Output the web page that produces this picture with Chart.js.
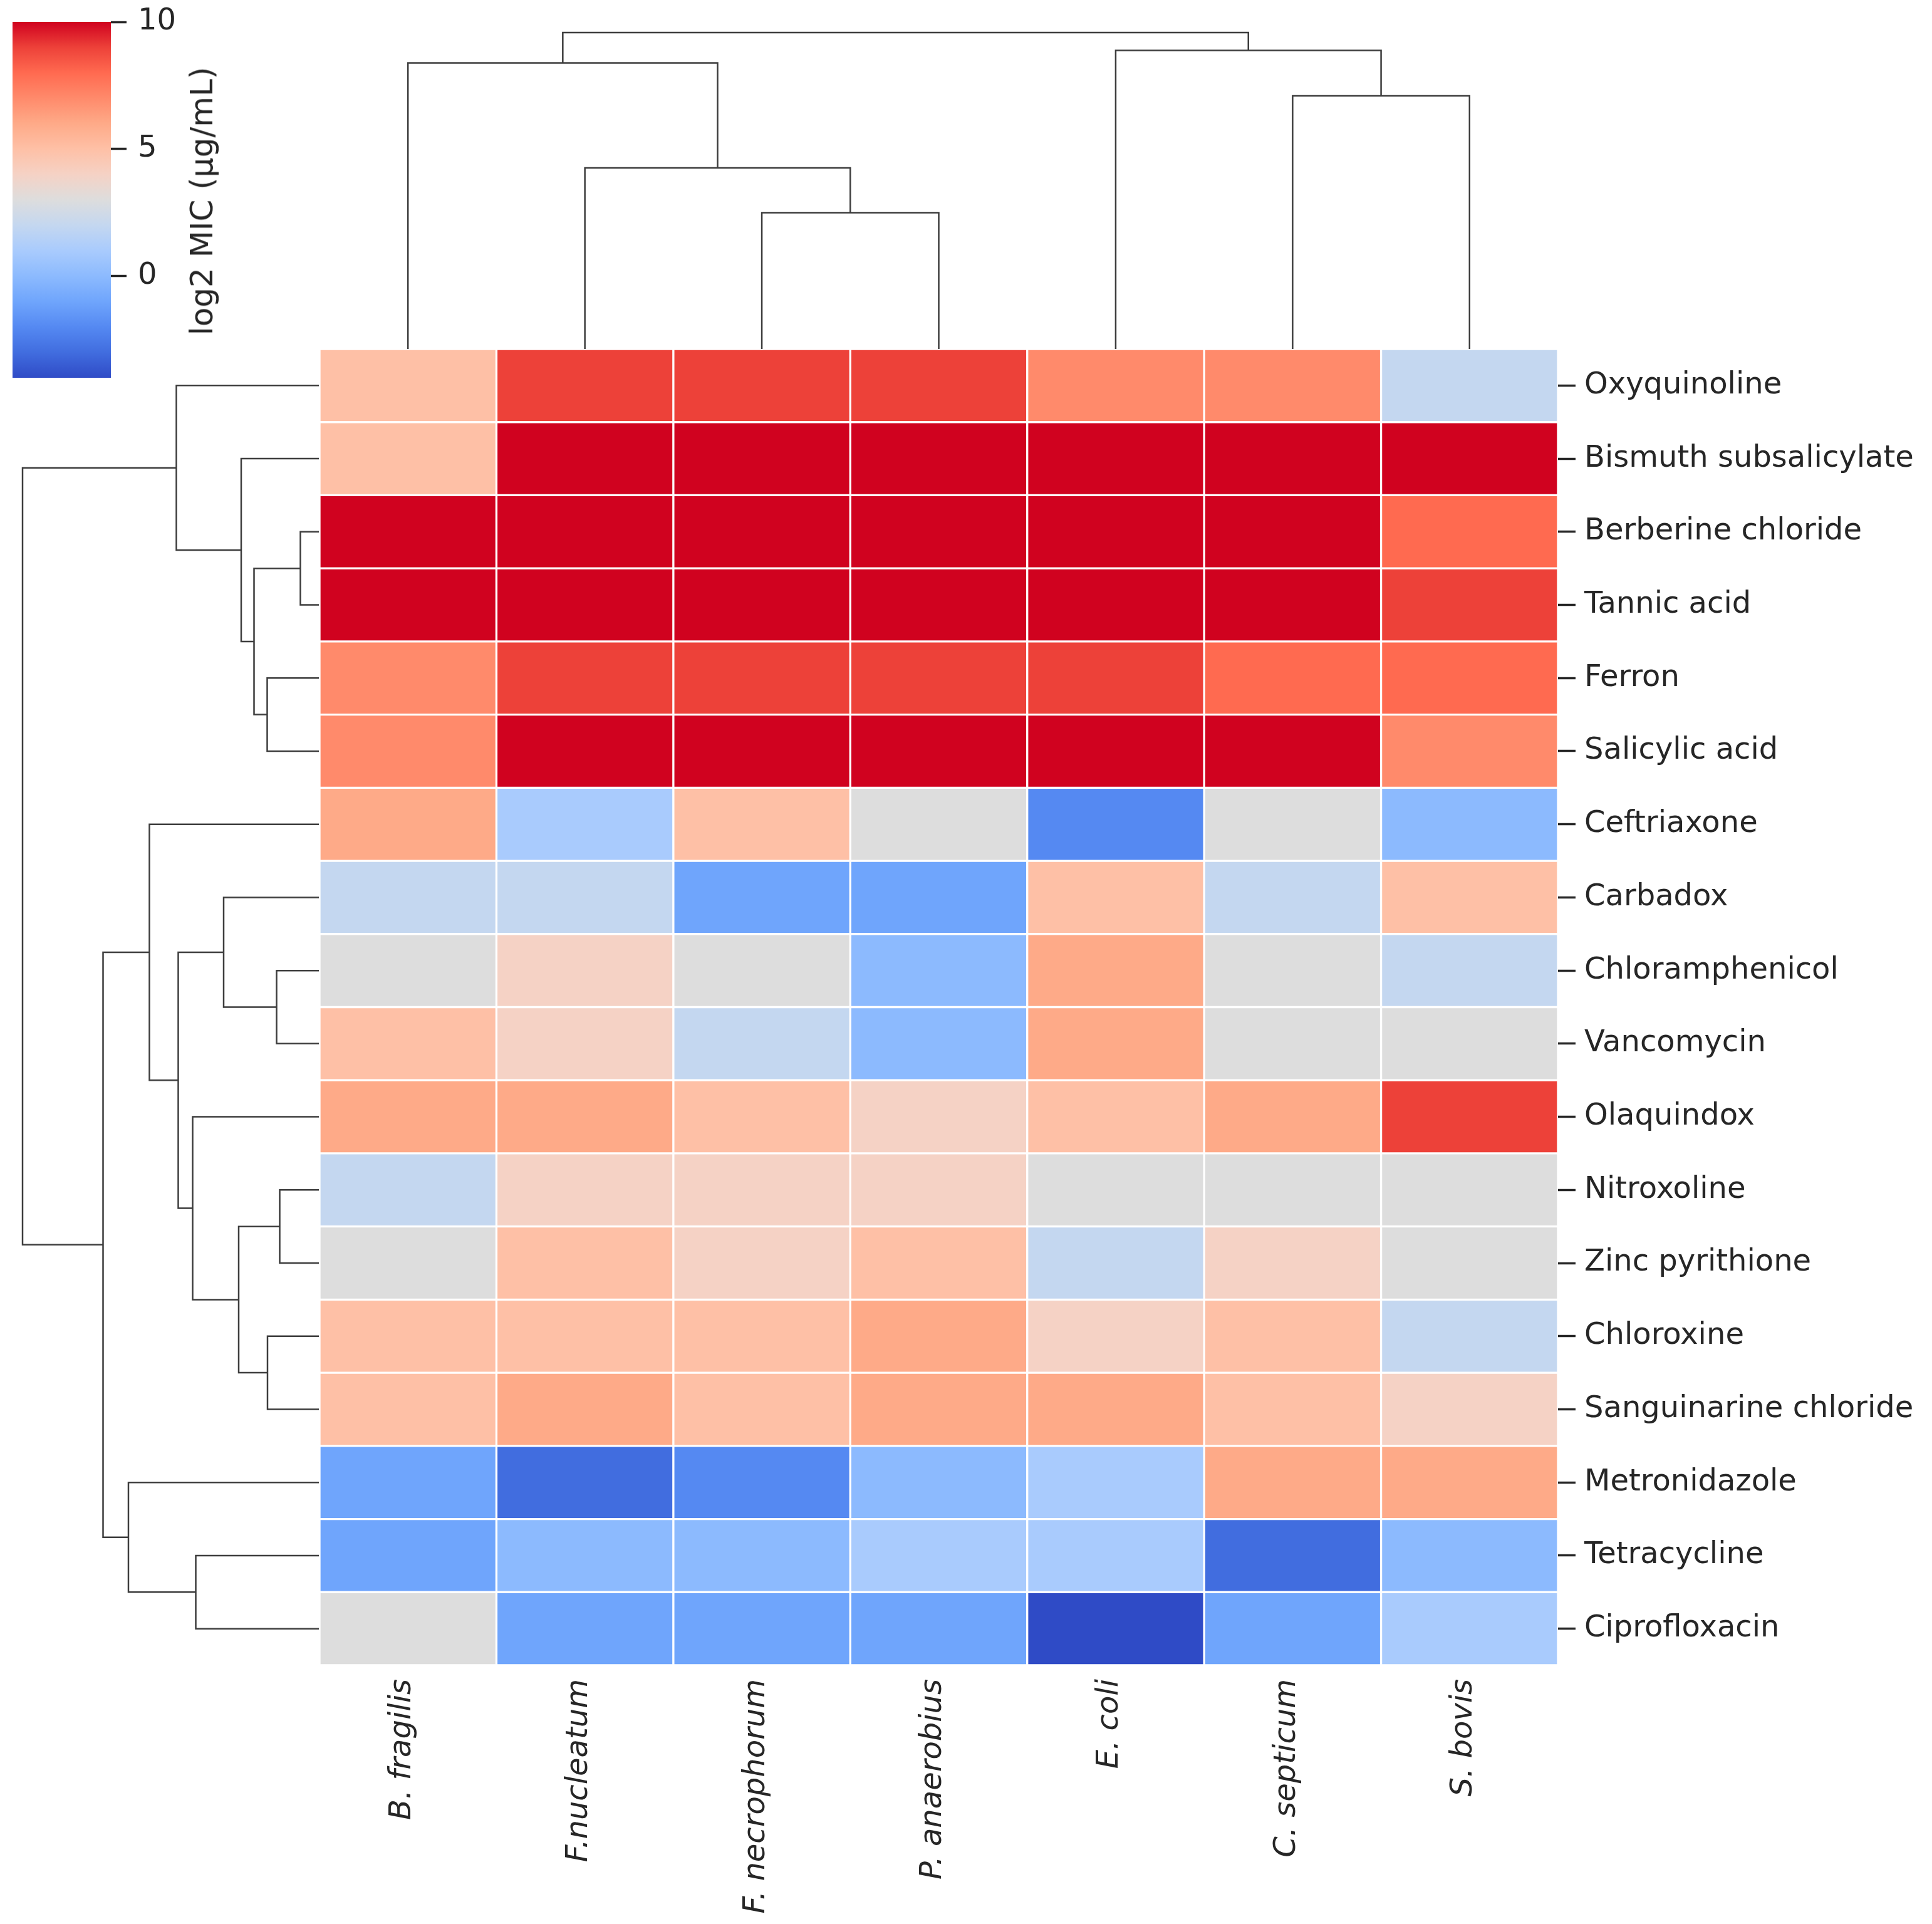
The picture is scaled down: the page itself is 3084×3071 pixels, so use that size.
<!DOCTYPE html>
<html>
<head>
<meta charset="utf-8">
<title>log2 MIC clustermap</title>
<script src="https://cdn.jsdelivr.net/npm/chart.js@4.4.1/dist/chart.umd.min.js"></script>
<style>
  body { margin: 0; background: #fff; }
  #page { position: relative; width: 3084px; height: 3071px; background: #fff; font-family: 'DejaVu Sans', sans-serif; }
  canvas { position: absolute; }
  #cbar-title { position: absolute; left: 322px; top: 321px; transform: translate(-50%, -50%) rotate(-90deg); font-size: 50px; color: #262626; white-space: nowrap; }
</style>
</head>
<body>
<div id="page">
  <canvas id="colTree" width="1977" height="557" style="left:510px;top:0"></canvas>
  <canvas id="rowTree" width="509" height="2101" style="left:0;top:557px"></canvas>
  <canvas id="heatmap" width="2574" height="2514" style="left:510px;top:557px"></canvas>
  <canvas id="colorbar" width="300" height="640" style="left:0;top:0"></canvas>
  <div id="cbar-title">log2 MIC (μg/mL)</div>
</div>
<script>
const species = ['B. fragilis', 'F.nucleatum', 'F. necrophorum', 'P. anaerobius', 'E. coli', 'C. septicum', 'S. bovis'];
const drugs = ['Oxyquinoline', 'Bismuth subsalicylate', 'Berberine chloride', 'Tannic acid', 'Ferron',
  'Salicylic acid', 'Ceftriaxone', 'Carbadox', 'Chloramphenicol', 'Vancomycin', 'Olaquindox',
  'Nitroxoline', 'Zinc pyrithione', 'Chloroxine', 'Sanguinarine chloride', 'Metronidazole',
  'Tetracycline', 'Ciprofloxacin'];

// log2 MIC for each species, one value per drug (same order as drugs)
const bFragilis    = [5, 5, 10, 10, 7, 7, 6, 2, 3, 5, 6, 2, 3, 5, 5, -1, -1, 3];
const fNucleatum   = [9, 10, 10, 10, 9, 10, 1, 2, 4, 4, 6, 4, 5, 5, 6, -3, 0, -1];
const fNecrophorum = [9, 10, 10, 10, 9, 10, 5, -1, 3, 2, 5, 4, 4, 5, 5, -2, 0, -1];
const pAnaerobius  = [9, 10, 10, 10, 9, 10, 3, -1, 0, 0, 4, 4, 5, 6, 6, 0, 1, -1];
const eColi        = [7, 10, 10, 10, 9, 10, -2, 5, 6, 6, 5, 3, 2, 4, 6, 1, 1, -4];
const cSepticum    = [7, 10, 10, 10, 8, 10, 3, 2, 3, 3, 6, 3, 4, 5, 5, 6, -3, -1];
const sBovis       = [2, 10, 8, 9, 8, 7, 0, 5, 2, 3, 9, 3, 3, 2, 4, 6, 0, 1];
const micBySpecies = [bFragilis, fNucleatum, fNecrophorum, pAnaerobius, eColi, cSepticum, sBovis];

// linkage tables like scipy: [child a, child b, distance], new clusters numbered after the leaves
const speciesLinkage = [[2, 3, 4.35], [1, 7, 5.78], [5, 6, 8.08], [0, 8, 9.13], [4, 9, 9.53], [10, 11, 10.10]];
const drugLinkage = [
  [2, 3, 0.59], [8, 9, 1.35], [11, 12, 1.25], [13, 14, 1.64], [4, 5, 1.65],
  [18, 22, 2.07], [1, 23, 2.48], [20, 21, 2.56], [7, 19, 3.04], [16, 17, 3.93],
  [10, 25, 4.03], [26, 28, 4.49], [0, 24, 4.55], [6, 29, 5.41], [15, 27, 6.08],
  [31, 32, 6.89], [30, 33, 9.46]
];

const vmin = -4;
const vmax = 10;
const colorTicks = [0, 5, 10];
// colours at -4, -3, ... 10
const palette = ['#2f4bc6', '#416ddf', '#5589f2', '#6fa5fc', '#8cbafe', '#a9cbfd', '#c4d7f0', '#dddddd',
  '#f5d2c5', '#fec0a6', '#feaa88', '#ff8a6b', '#ff6a50', '#ed4139', '#d0021f'];

const textColor = '#262626';
const lineColor = '#3d3d3d';

Chart.defaults.font.family = "'DejaVu Sans', sans-serif";
Chart.defaults.font.size = 48;
Chart.defaults.color = textColor;
Chart.defaults.animation = false;
Chart.defaults.plugins.legend.display = false;
Chart.defaults.plugins.tooltip.enabled = false;

const hexToRgb = hex => [1, 3, 5].map(i => parseInt(hex.slice(i, i + 2), 16));

const colorFor = v => {
  const t = (Math.min(Math.max(v, vmin), vmax) - vmin) / (vmax - vmin) * (palette.length - 1);
  const i = Math.min(Math.floor(t), palette.length - 2);
  const f = t - i;
  const a = hexToRgb(palette[i]);
  const b = hexToRgb(palette[i + 1]);
  return `rgb(${a.map((x, k) => Math.round(x + (b[k] - x) * f)).join(',')})`;
};

// every merge becomes a U made of 4 points: [leaf position, height]
const dendrogramLinks = (linkage, nLeaves) => {
  const pos = [];
  const height = [];
  for (let i = 0; i < nLeaves; i++) { pos.push(i + 0.5); height.push(0); }
  return linkage.map(([a, b, h]) => {
    pos.push((pos[a] + pos[b]) / 2);
    height.push(h);
    return [[pos[a], height[a]], [pos[a], h], [pos[b], h], [pos[b], height[b]]];
  });
};

const treeDataset = points => ({
  data: points,
  showLine: true,
  borderColor: lineColor,
  borderWidth: 2.5,
  pointRadius: 0
});

// vertical axes ask for room above/below for half a label; the plot edges are fixed here
const noLabelOverhang = scale => {
  scale.paddingTop = 0;
  scale.paddingBottom = 0;
};

// column dendrogram above the heatmap
new Chart(document.getElementById('colTree'), {
  type: 'scatter',
  data: {
    datasets: dendrogramLinks(speciesLinkage, species.length)
      .map(link => treeDataset(link.map(([p, h]) => ({ x: p, y: h }))))
  },
  options: {
    responsive: false,
    layout: { padding: 0 },
    scales: {
      x: { type: 'linear', display: false, min: 0, max: species.length },
      y: { type: 'linear', display: false, min: 0, max: 11.14 }
    }
  }
});

// row dendrogram on the left
new Chart(document.getElementById('rowTree'), {
  type: 'scatter',
  data: {
    datasets: dendrogramLinks(drugLinkage, drugs.length)
      .map(link => treeDataset(link.map(([p, h]) => ({ x: h, y: p }))))
  },
  options: {
    responsive: false,
    layout: { padding: 0 },
    scales: {
      x: { type: 'linear', display: false, reverse: true, min: 0, max: 10.18 },
      y: { type: 'linear', display: false, reverse: true, min: 0, max: drugs.length }
    }
  }
});

// heatmap: one floating bar per cell, one dataset per species column
new Chart(document.getElementById('heatmap'), {
  type: 'bar',
  data: {
    labels: drugs,
    datasets: micBySpecies.map((values, c) => ({
      label: species[c],
      data: values.map(() => [c, c + 1]),
      backgroundColor: values.map(colorFor),
      borderColor: '#ffffff',
      borderWidth: 2,
      borderSkipped: false,
      grouped: false,
      barPercentage: 1,
      categoryPercentage: 1
    }))
  },
  options: {
    indexAxis: 'y',
    responsive: false,
    layout: { padding: 0 },
    scales: {
      x: {
        type: 'linear',
        position: 'bottom',
        min: 0,
        max: species.length,
        afterBuildTicks: scale => { scale.ticks = species.map((s, i) => ({ value: i + 0.5 })); },
        afterFit: scale => { scale.height = 413; },
        grid: { display: false },
        border: { display: false },
        ticks: {
          autoSkip: false,
          minRotation: 90,
          maxRotation: 90,
          padding: 14,
          labelOffset: -9,
          font: { style: 'italic' },
          callback: (value, index) => species[index]
        }
      },
      y: {
        type: 'category',
        position: 'right',
        afterFit: scale => { scale.width = 597; noLabelOverhang(scale); },
        grid: { offset: false, drawOnChartArea: false, tickLength: 28, tickWidth: 3.5, tickColor: textColor },
        border: { display: false },
        ticks: { padding: 14 }
      }
    }
  }
});

// colour bar
new Chart(document.getElementById('colorbar'), {
  type: 'bar',
  data: {
    labels: [''],
    datasets: [{
      data: [[vmin, vmax]],
      barPercentage: 1,
      categoryPercentage: 1,
      borderWidth: 0,
      backgroundColor: ctx => {
        const chart = ctx.chart;
        if (!chart.chartArea) return palette[7];
        const y = chart.scales.y;
        const g = chart.ctx.createLinearGradient(0, y.getPixelForValue(vmin), 0, y.getPixelForValue(vmax));
        palette.forEach((c, i) => g.addColorStop(i / (palette.length - 1), c));
        return g;
      }
    }]
  },
  options: {
    responsive: false,
    layout: { padding: { left: 20, top: 35, bottom: 37, right: 0 } },
    scales: {
      x: { display: false },
      y: {
        position: 'right',
        min: vmin,
        max: vmax,
        afterFit: scale => { scale.width = 123; noLabelOverhang(scale); },
        afterBuildTicks: scale => { scale.ticks = colorTicks.map(v => ({ value: v })); },
        grid: { drawOnChartArea: false, tickLength: 25, tickWidth: 3.5, tickColor: textColor },
        border: { display: false },
        ticks: { padding: 18 }
      }
    }
  }
});
</script>
</body>
</html>
